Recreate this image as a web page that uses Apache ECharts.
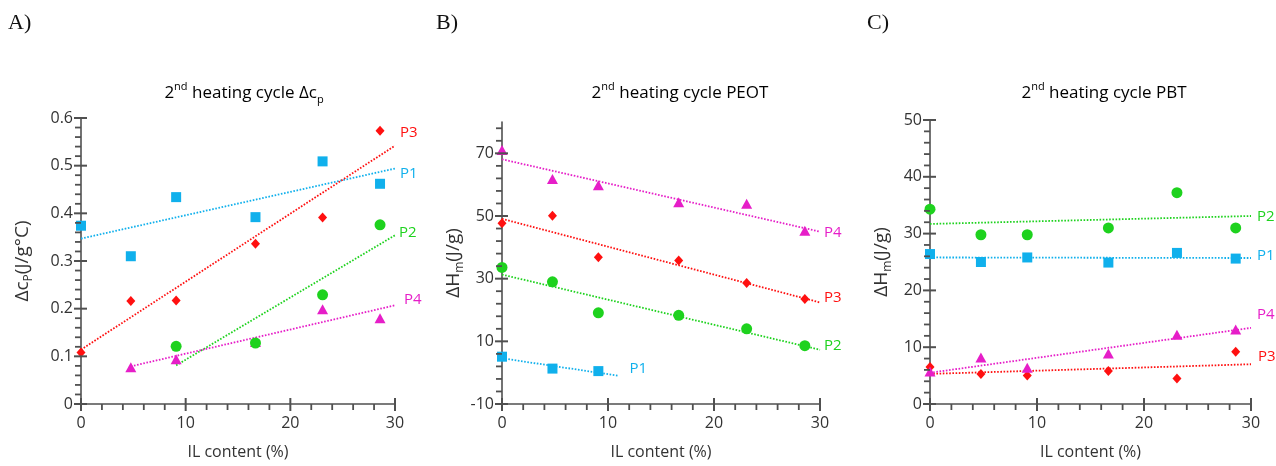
<!DOCTYPE html>
<html>
<head>
<meta charset="utf-8">
<script src="https://cdn.jsdelivr.net/npm/echarts@6/dist/echarts.min.js"></script>
<style>
  html, body { margin: 0; padding: 0; background: #fff; }
  #chart { width: 1276px; height: 466px; }
</style>
</head>
<body>
<div id="chart"></div>
<script>
// IL content of the blends (%), shared by all three panels
const ilContent = [0, 4.76, 9.09, 16.67, 23.08, 28.57];

// tick positions: labelled major ticks and the minor tick step of each axis
const xMajorTicks = [0, 10, 20, 30];
const xMinorStep = 2;
const cpMajorTicks = [0, 0.1, 0.2, 0.3, 0.4, 0.5, 0.6];
const cpMinorStep = 0.02;
const peotMajorTicks = [-10, 10, 30, 50, 70];
const peotMinorStep = 4;
const pbtMajorTicks = [0, 10, 20, 30, 40, 50];
const pbtMinorStep = 2;

// A) 2nd heating cycle, heat capacity step Δcp (J/g°C)
const cpP1 = [0.374, 0.310, 0.434, 0.392, 0.509, 0.462];
const cpP2 = [null, null, 0.121, 0.128, 0.229, 0.376];
const cpP3 = [0.108, 0.216, 0.217, 0.336, 0.391, 0.573];
const cpP4 = [null, 0.077, 0.094, 0.130, 0.199, 0.180];
const cpTrendP1 = [[0, 0.347], [30, 0.494]];
const cpTrendP2 = [[9.09, 0.081], [30, 0.354]];
const cpTrendP3 = [[0, 0.114], [30, 0.542]];
const cpTrendP4 = [[4.76, 0.079], [30, 0.207]];

// B) 2nd heating cycle, PEOT melting enthalpy ΔHm (J/g)
const peotP1 = [5.1, 1.3, 0.5, null, null, null];
const peotP2 = [33.6, 29.0, 19.1, 18.3, 14.0, 8.6];
const peotP3 = [47.7, 50.1, 36.8, 35.8, 28.6, 23.5];
const peotP4 = [71.1, 61.8, 59.8, 54.4, 53.9, 45.3];
const peotTrendP1 = [[0, 4.6], [11, -1.0]];
const peotTrendP2 = [[0, 31.3], [30, 7.3]];
const peotTrendP3 = [[0, 49.1], [30, 22.4]];
const peotTrendP4 = [[0, 68.1], [30, 45.0]];

// C) 2nd heating cycle, PBT melting enthalpy ΔHm (J/g)
const pbtP1 = [26.4, 25.0, 25.8, 24.9, 26.6, 25.6];
const pbtP2 = [34.3, 29.8, 29.8, 31.0, 37.2, 31.0];
const pbtP3 = [6.5, 5.3, 5.0, 5.8, 4.5, 9.2];
const pbtP4 = [5.7, 8.2, 6.4, 8.9, 12.2, 13.1];
const pbtTrendP1 = [[0, 25.8], [30, 25.7]];
const pbtTrendP2 = [[0, 31.7], [30, 33.1]];
const pbtTrendP3 = [[0, 5.3], [30, 7.0]];
const pbtTrendP4 = [[0, 5.5], [30, 13.4]];

const FONT = '"Open Sans", "Liberation Sans", sans-serif';
const AXIS_COLOR = '#505050';
const TEXT_COLOR = '#333333';
const COLORS = { P1: '#10b0ec', P2: '#1ed21e', P3: '#ff1010', P4: '#e61ec8' };
const SYMBOLS = {
  P1: { symbol: 'rect', size: 10 },
  P2: { symbol: 'circle', size: 11 },
  P3: { symbol: 'diamond', size: [9, 10] },
  P4: { symbol: 'triangle', size: [11, 10] }
};

const grids = [
  { left: 81, top: 118, width: 314, height: 286 },
  { left: 502, top: 122, width: 318, height: 282 },
  { left: 930, top: 120, width: 321, height: 284 }
];
const xRange = { min: 0, max: 30 };
const yRanges = [
  { min: 0, max: 0.6, interval: 0.1 },
  { min: -10, max: 80, interval: 20 },
  { min: 0, max: 50, interval: 10 }
];
const yMajor = [cpMajorTicks, peotMajorTicks, pbtMajorTicks];
const yMinorStep = [cpMinorStep, peotMinorStep, pbtMinorStep];

const richName = {
  m: { fontSize: 19, color: TEXT_COLOR, fontFamily: FONT, lineHeight: 24 },
  s: { fontSize: 12, color: TEXT_COLOR, fontFamily: FONT, lineHeight: 13, verticalAlign: 'bottom' }
};
const yNames = ['{m|Δc}{s|P}{m|(J/g°C)}', '{m|ΔH}{s|m}{m|(J/g)}', '{m|ΔH}{s|m}{m|(J/g)}'];

// labels are placed on the major ticks only
function labelAt(ticks) {
  return v => (ticks.some(t => Math.abs(t - v) < 1e-9) ? String(+v.toFixed(4)) : '');
}

// minor tick values between min and max, skipping the major ones
function minorTicks(min, max, start, step, majors) {
  const out = [];
  for (let v = start; v <= max + 1e-9; v += step) {
    const r = +v.toFixed(6);
    if (r >= min && !majors.some(t => Math.abs(t - r) < 1e-9)) out.push(r);
  }
  return out;
}

const xAxes = grids.map((g, i) => ({
  type: 'value', gridIndex: i, position: 'bottom', min: xRange.min, max: xRange.max, interval: 10,
  name: 'IL content (%)', nameLocation: 'middle', nameGap: 40,
  nameTextStyle: { fontSize: 16, color: TEXT_COLOR, fontFamily: FONT },
  axisLine: { show: true, onZero: false, lineStyle: { color: AXIS_COLOR, width: 1.6 } },
  axisTick: { show: false },
  axisLabel: { show: true, fontSize: 16, color: TEXT_COLOR, fontFamily: FONT, margin: 11 },
  splitLine: { show: false }
}));

const yAxes = grids.map((g, i) => ({
  type: 'value', gridIndex: i, position: 'left',
  min: yRanges[i].min, max: yRanges[i].max, interval: yRanges[i].interval,
  name: yNames[i], nameLocation: 'middle', nameGap: i === 0 ? 46 : 36, nameRotate: 90,
  nameTextStyle: { rich: richName },
  axisLine: { show: true, onZero: false, lineStyle: { color: AXIS_COLOR, width: 1.6 } },
  axisTick: { show: false },
  axisLabel: {
    show: true, fontSize: 16, color: TEXT_COLOR, fontFamily: FONT, margin: 8,
    formatter: labelAt(yMajor[i])
  },
  splitLine: { show: false }
}));

// tick marks as short segments placed through each panel's own axes:
// major ticks cross the axis line, minor ticks point outwards
function tickMarks(panel, pts, dir, lo, hi, width) {
  return {
    type: 'custom', xAxisIndex: panel, yAxisIndex: panel, data: pts,
    silent: true, clip: false, z: 5,
    renderItem: (params, api) => {
      const p = api.coord([api.value(0), api.value(1)]);
      const shape = dir === 'x'
        ? { x1: p[0], y1: p[1] + lo, x2: p[0], y2: p[1] + hi }
        : { x1: p[0] + lo, y1: p[1], x2: p[0] + hi, y2: p[1] };
      return {
        type: 'line', shape: shape,
        style: { stroke: AXIS_COLOR, lineWidth: width }
      };
    }
  };
}

const tickSeries = [];
grids.forEach((g, i) => {
  const yMin = yRanges[i].min;
  const xMinor = minorTicks(xRange.min, xRange.max, xRange.min, xMinorStep, xMajorTicks);
  const yMinor = minorTicks(yMin, yRanges[i].max, yMajor[i][0], yMinorStep[i], yMajor[i]);
  tickSeries.push(
    tickMarks(i, xMajorTicks.map(t => [t, yMin]), 'x', -6, 7, 2),
    tickMarks(i, xMinor.map(t => [t, yMin]), 'x', 0, 6, 1.8),
    tickMarks(i, yMajor[i].map(t => [xRange.min, t]), 'y', -7, 6, 2),
    tickMarks(i, yMinor.map(t => [xRange.min, t]), 'y', -6, 0, 1.8)
  );
});

function points(values) {
  return ilContent.map((x, k) => [x, values[k]]).filter(p => p[1] !== null);
}

function scatter(panel, key, values) {
  return {
    type: 'scatter', name: key, xAxisIndex: panel, yAxisIndex: panel,
    data: points(values), symbol: SYMBOLS[key].symbol, symbolSize: SYMBOLS[key].size,
    itemStyle: { color: COLORS[key], opacity: 1 }, clip: false, z: 3
  };
}

function trend(panel, key, line, dx, dy) {
  return {
    type: 'line', name: key + ' trend', xAxisIndex: panel, yAxisIndex: panel,
    data: line, symbol: 'none', showSymbol: false,
    lineStyle: { color: COLORS[key], width: 1.8, type: [1.6, 1.6] },
    endLabel: {
      show: true, formatter: key, color: COLORS[key], fontSize: 15, fontFamily: FONT,
      distance: 3, offset: [dx, dy]
    },
    z: 2
  };
}

const series = tickSeries.concat([
  trend(0, 'P1', cpTrendP1, 2, 5), trend(0, 'P3', cpTrendP3, 2, -13),
  trend(0, 'P2', cpTrendP2, 1, -3), trend(0, 'P4', cpTrendP4, 6, -6),
  scatter(0, 'P1', cpP1), scatter(0, 'P3', cpP3), scatter(0, 'P4', cpP4), scatter(0, 'P2', cpP2),

  trend(1, 'P1', peotTrendP1, 8, -7), trend(1, 'P3', peotTrendP3, 1, -5),
  trend(1, 'P2', peotTrendP2, 1, -4), trend(1, 'P4', peotTrendP4, 1, 1),
  scatter(1, 'P1', peotP1), scatter(1, 'P3', peotP3), scatter(1, 'P4', peotP4), scatter(1, 'P2', peotP2),

  trend(2, 'P1', pbtTrendP1, 3, -2), trend(2, 'P3', pbtTrendP3, 4, -8),
  trend(2, 'P2', pbtTrendP2, 3, 1), trend(2, 'P4', pbtTrendP4, 3, -13),
  scatter(2, 'P1', pbtP1), scatter(2, 'P3', pbtP3), scatter(2, 'P4', pbtP4), scatter(2, 'P2', pbtP2)
]);

const titleRich = {
  m: { fontSize: 17, color: TEXT_COLOR, fontFamily: FONT, lineHeight: 24 },
  sup: { fontSize: 11, color: TEXT_COLOR, fontFamily: FONT, lineHeight: 13, verticalAlign: 'top' },
  sub: { fontSize: 11, color: TEXT_COLOR, fontFamily: FONT, lineHeight: 13, verticalAlign: 'bottom' }
};
const titles = [
  { x: 244, text: '{m|2}{sup|nd}{m| heating cycle Δc}{sub|p}' },
  { x: 680, text: '{m|2}{sup|nd}{m| heating cycle PEOT}' },
  { x: 1104, text: '{m|2}{sup|nd}{m| heating cycle PBT}' }
];
const letters = [{ x: 8, text: 'A)' }, { x: 436, text: 'B)' }, { x: 867, text: 'C)' }];

const graphic = titles.map(t => ({
  type: 'text', x: t.x, y: 93,
  style: { text: t.text, rich: titleRich, align: 'center', verticalAlign: 'middle' }
})).concat(letters.map(l => ({
  type: 'text', x: l.x, y: 23,
  style: {
    text: l.text, fill: '#111', fontSize: 22,
    fontFamily: '"Liberation Serif", "DejaVu Serif", serif', verticalAlign: 'middle'
  }
})));

const chart = echarts.init(document.getElementById('chart'), null, { renderer: 'canvas' });
chart.setOption({
  animation: false,
  backgroundColor: '#ffffff',
  textStyle: { fontFamily: FONT },
  grid: grids,
  xAxis: xAxes,
  yAxis: yAxes,
  series: series,
  graphic: graphic
});
</script>
</body>
</html>
